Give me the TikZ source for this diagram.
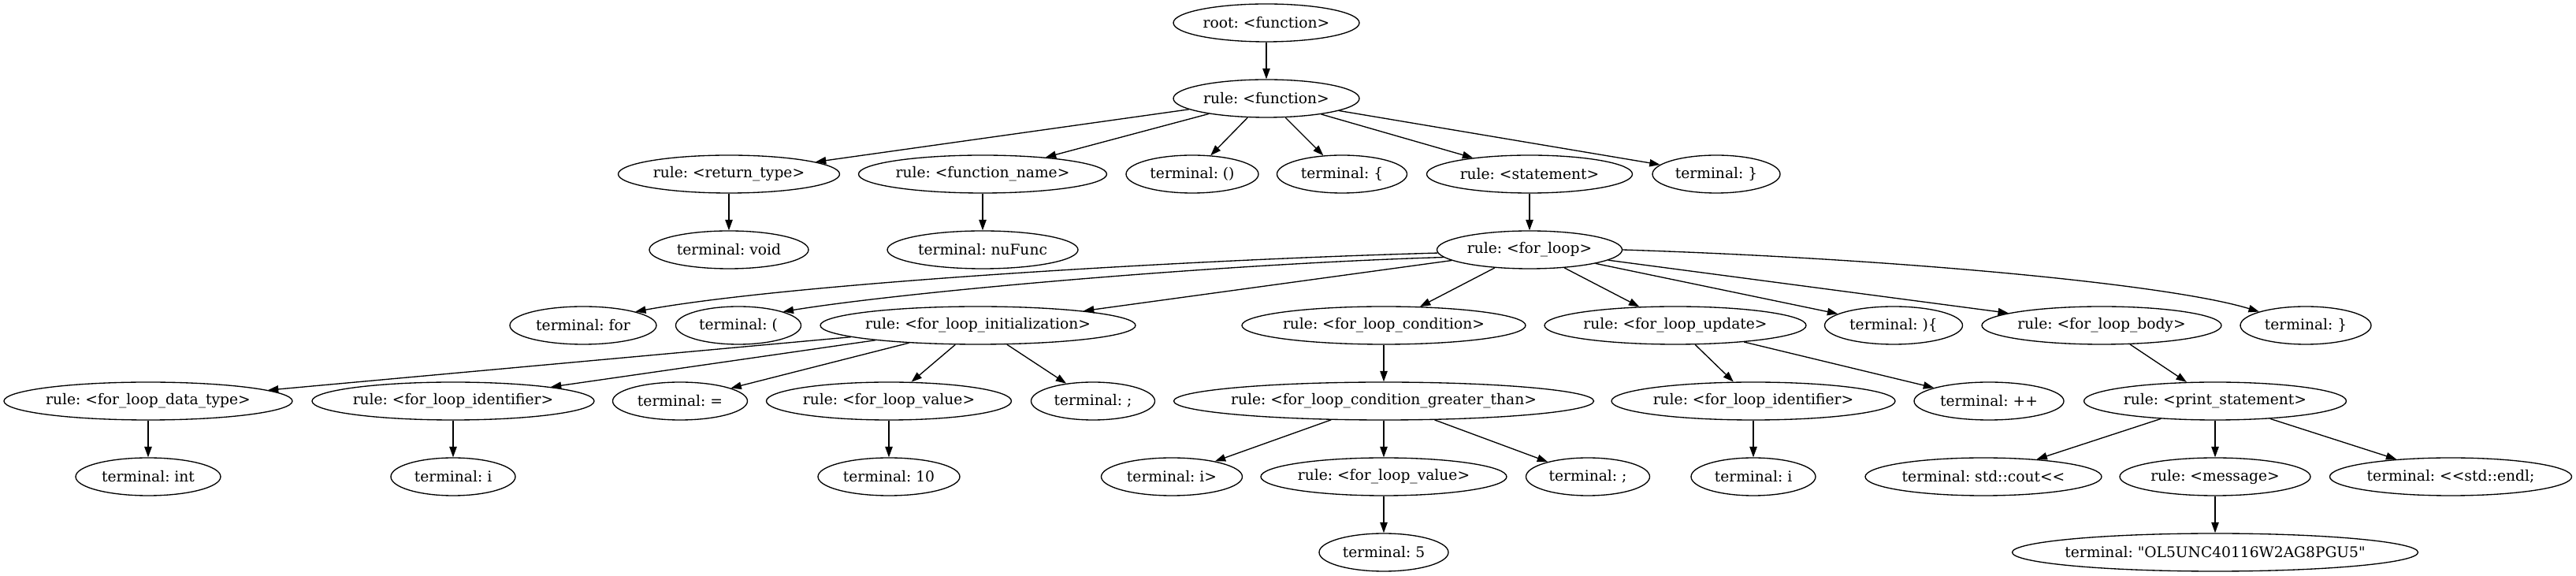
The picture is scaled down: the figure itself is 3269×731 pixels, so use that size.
\documentclass[tikz,border=0pt]{standalone}
\usepackage{fontspec}
\usetikzlibrary{arrows.meta,shapes.geometric}
\newfontfamily\gvfont{DejaVu Serif}
\tikzset{
  gv/.style={ellipse,draw,line width=1pt,inner sep=0pt,minimum height=36pt,
    font=\gvfont\fontsize{14pt}{16pt}\selectfont\frenchspacing,
    execute at begin node=\hbox to 0pt\bgroup\hss,
    execute at end node=\hss\egroup},
  gvw/.style={minimum width=#1*0.75pt},
  gvedge/.style={line width=1pt,-{Triangle[length=10pt,width=7pt]}}
}

\begin{document}
\begin{tikzpicture}[x=0.75pt,y=0.75pt]
  \useasboundingbox (0,0) rectangle (3269,731);
  \node[gv,gvw=236] (root) at (1607,702) {root: <function>};
  \node[gv,gvw=236] (func) at (1607,606) {rule: <function>};
  \node[gv,gvw=281] (rettype) at (925,510) {rule: <return\_type>};
  \node[gv,gvw=315] (fname) at (1247,510) {rule: <function\_name>};
  \node[gv,gvw=168] (tparens) at (1513,510) {terminal: ()};
  \node[gv,gvw=165] (tlbrace) at (1703,510) {terminal: \{};
  \node[gv,gvw=261] (stmt) at (1941,510) {rule: <statement>};
  \node[gv,gvw=162] (trbrace) at (2178,510) {terminal: \}};
  \node[gv,gvw=202] (tvoid) at (925,414) {terminal: void};
  \node[gv,gvw=242] (tnufunc) at (1247,414) {terminal: nuFunc};
  \node[gv,gvw=235] (forloop) at (1941,414) {rule: <for\_loop>};
  \node[gv,gvw=186] (tfor) at (740,318) {terminal: for};
  \node[gv,gvw=159] (tlparen) at (937,318) {terminal: (};
  \node[gv,gvw=400] (finit) at (1241,318) {rule: <for\_loop\_initialization>};
  \node[gv,gvw=360] (fcond) at (1756,318) {rule: <for\_loop\_condition>};
  \node[gv,gvw=332] (fupdate) at (2126,318) {rule: <for\_loop\_update>};
  \node[gv,gvw=175] (tclose) at (2403,318) {terminal: )\{};
  \node[gv,gvw=304] (fbody) at (2667,318) {rule: <for\_loop\_body>};
  \node[gv,gvw=166] (trbrace2) at (2926,318) {terminal: \}};
  \node[gv,gvw=366] (fdtype) at (188,222) {rule: <for\_loop\_data\_type>};
  \node[gv,gvw=358] (fident) at (575,222) {rule: <for\_loop\_identifier>};
  \node[gv,gvw=171] (teq) at (863,222) {terminal: =};
  \node[gv,gvw=311] (fvalue) at (1128,222) {rule: <for\_loop\_value>};
  \node[gv,gvw=157] (tsemi) at (1387,222) {terminal: ;};
  \node[gv,gvw=533] (fgt) at (1756,222) {rule: <for\_loop\_condition\_greater\_than>};
  \node[gv,gvw=360] (fident2) at (2225,222) {rule: <for\_loop\_identifier>};
  \node[gv,gvw=190] (tplus) at (2524,222) {terminal: ++};
  \node[gv,gvw=333] (pstmt) at (2811,222) {rule: <print\_statement>};
  \node[gv,gvw=184] (tint) at (188,126) {terminal: int};
  \node[gv,gvw=158] (ti) at (575,126) {terminal: i};
  \node[gv,gvw=180] (tten) at (1128,126) {terminal: 10};
  \node[gv,gvw=179] (tigt) at (1487,126) {terminal: i>};
  \node[gv,gvw=312] (fvalue2) at (1756,126) {rule: <for\_loop\_value>};
  \node[gv,gvw=157] (tsemi2) at (2015,126) {terminal: ;};
  \node[gv,gvw=158] (ti2) at (2225,126) {terminal: i};
  \node[gv,gvw=300] (tcout) at (2517,126) {terminal: std::cout<<};
  \node[gv,gvw=242] (msg) at (2811,126) {rule: <message>};
  \node[gv,gvw=307] (tendl) at (3110,126) {terminal: <<std::endl;};
  \node[gv,gvw=164] (tfive) at (1756,30) {terminal: 5};
  \node[gv,gvw=515] (tstr) at (2811,30) {terminal: "OL5UNC40116W2AG8PGU5"};

  \draw[gvedge] (root) -- (func);
  \foreach \c in {rettype,fname,tparens,tlbrace,stmt,trbrace}
    \draw[gvedge] (func) -- (\c);
  \draw[gvedge] (rettype) -- (tvoid);
  \draw[gvedge] (fname) -- (tnufunc);
  \draw[gvedge] (stmt) -- (forloop);
  \draw[gvedge] (forloop.182) .. controls (1500,401) and (1000,371) .. (tfor.north east);
  \draw[gvedge] (forloop.185) .. controls (1550,396) and (1150,361) .. (tlparen.north east);
  \foreach \c in {finit,fcond,fupdate,tclose,fbody}
    \draw[gvedge] (forloop) -- (\c);
  \draw[gvedge] (forloop.east) .. controls (2400,403) and (2750,371) .. (trbrace2.north west);
  \foreach \c in {fdtype,fident,teq,fvalue,tsemi}
    \draw[gvedge] (finit) -- (\c);
  \draw[gvedge] (fcond) -- (fgt);
  \draw[gvedge] (fupdate) -- (fident2);
  \draw[gvedge] (fupdate) -- (tplus);
  \draw[gvedge] (fbody) -- (pstmt);
  \draw[gvedge] (fdtype) -- (tint);
  \draw[gvedge] (fident) -- (ti);
  \draw[gvedge] (fvalue) -- (tten);
  \foreach \c in {tigt,fvalue2,tsemi2}
    \draw[gvedge] (fgt) -- (\c);
  \draw[gvedge] (fident2) -- (ti2);
  \foreach \c in {tcout,msg,tendl}
    \draw[gvedge] (pstmt) -- (\c);
  \draw[gvedge] (fvalue2) -- (tfive);
  \draw[gvedge] (msg) -- (tstr);
\end{tikzpicture}
\end{document}
